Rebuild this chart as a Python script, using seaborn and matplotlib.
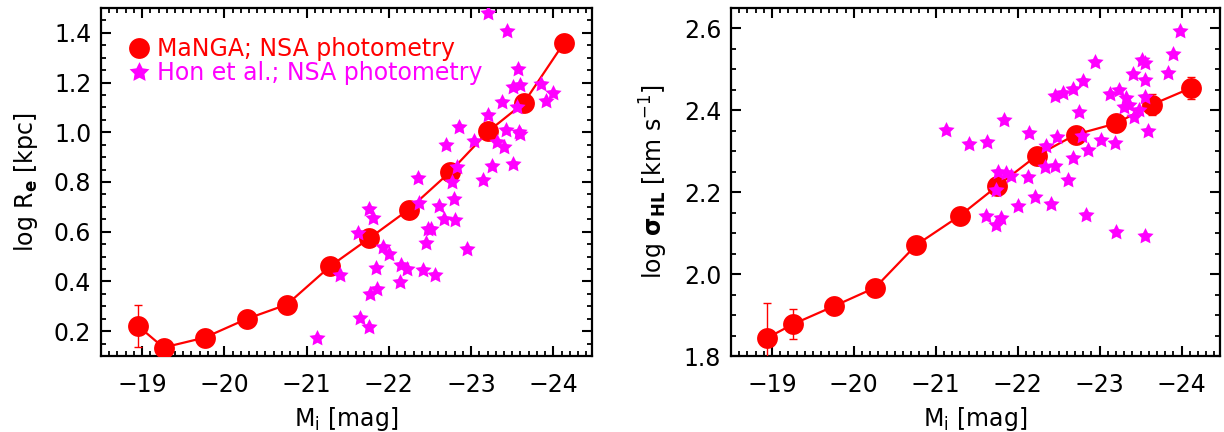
import matplotlib
matplotlib.use("Agg")
import matplotlib.pyplot as plt
from matplotlib.lines import Line2D
from matplotlib.ticker import MultipleLocator
import seaborn as sns
import pandas as pd

# ---------------- data ----------------
# MaNGA binned relation (shared magnitude bins)
manga_mag = [-18.95, -19.26, -19.76, -20.27, -20.76, -21.29, -21.76, -22.24, -22.74, -23.21, -23.64, -24.13]
manga_logre = [0.221, 0.134, 0.174, 0.249, 0.307, 0.462, 0.573, 0.689, 0.839, 1.004, 1.118, 1.360]
manga_logre_err = [0.085, 0.02, 0.015, 0.012, 0.012, 0.012, 0.012, 0.012, 0.012, 0.015, 0.02, 0.03]
manga_mag_s = [-18.94, -19.26, -19.76, -20.26, -20.76, -21.29, -21.75, -22.23, -22.71, -23.20, -23.64, -24.12]
manga_logsig = [1.844, 1.878, 1.922, 1.967, 2.071, 2.142, 2.215, 2.289, 2.341, 2.368, 2.414, 2.455]
manga_logsig_err = [0.085, 0.036, 0.015, 0.012, 0.012, 0.01, 0.01, 0.01, 0.012, 0.015, 0.026, 0.027]

# Hon et al. galaxies (left: size)
hon_mag_re = [-23.21, -23.44, -23.57, -23.51, -23.59, -23.38, -23.56, -23.85, -23.99, -23.91,
              -23.20, -22.85, -23.03, -23.42, -23.31, -23.40, -23.58, -23.60, -22.69, -23.51,
              -23.25, -22.83, -23.15, -22.35, -22.77, -22.79, -22.61, -22.37, -22.67, -22.80,
              -22.47, -22.51, -22.45, -21.76, -21.81, -21.62, -21.93, -22.00, -22.95, -22.15,
              -22.22, -21.84, -22.42, -22.56, -22.14, -21.40, -21.86, -21.77, -21.65, -21.76,
              -21.13]
hon_logre = [1.480, 1.408, 1.253, 1.183, 1.190, 1.122, 1.100, 1.196, 1.159, 1.126,
             1.069, 1.022, 0.965, 1.011, 0.961, 0.941, 1.002, 0.995, 0.948, 0.874,
             0.864, 0.861, 0.807, 0.818, 0.800, 0.733, 0.703, 0.716, 0.653, 0.649,
             0.609, 0.609, 0.555, 0.693, 0.657, 0.595, 0.539, 0.509, 0.532, 0.465,
             0.452, 0.454, 0.445, 0.425, 0.398, 0.425, 0.371, 0.351, 0.251, 0.217,
             0.174]

# Hon et al. galaxies (right: dispersion)
hon_mag_sig = [-23.98, -23.90, -23.84, -23.52, -23.56, -23.41, -23.56, -22.95, -22.80, -22.67,
               -22.55, -22.46, -23.13, -23.24, -23.32, -23.36, -23.30, -23.48, -23.42, -23.56,
               -22.75, -23.59, -23.19, -23.02, -22.79, -22.48, -22.86, -22.67, -22.35, -22.14,
               -21.83, -21.13, -21.40, -21.63, -22.33, -22.45, -22.61, -22.13, -21.76, -21.86,
               -21.92, -21.74, -22.21, -22.00, -22.41, -21.61, -21.80, -21.74, -22.84, -23.20,
               -23.56]
hon_logsig = [2.594, 2.537, 2.492, 2.523, 2.516, 2.488, 2.475, 2.518, 2.472, 2.453,
              2.443, 2.435, 2.440, 2.449, 2.429, 2.413, 2.409, 2.400, 2.383, 2.433,
              2.396, 2.350, 2.321, 2.327, 2.337, 2.335, 2.303, 2.284, 2.313, 2.345,
              2.376, 2.353, 2.317, 2.323, 2.262, 2.264, 2.231, 2.238, 2.250, 2.246,
              2.239, 2.205, 2.189, 2.166, 2.171, 2.142, 2.136, 2.120, 2.144, 2.103,
              2.093]

xticks = [-19, -20, -21, -22, -23, -24]
legend_labels = ["MaNGA; NSA photometry", "Hon et al.; NSA photometry"]

# ---------------- style ----------------
sns.set_style("ticks")
plt.rcParams["font.family"] = ["DejaVu Sans"]
plt.rcParams["mathtext.fontset"] = "dejavusans"
plt.rcParams["axes.unicode_minus"] = True
plt.rcParams["axes.labelcolor"] = "black"
plt.rcParams["text.color"] = "black"

RED = "#ff0000"
MAG = "#ff00ff"
FS = 17
STAR = (5, 1, 0)

fig = plt.figure(figsize=(12.24, 4.32), dpi=100)
axL = fig.add_axes([101 / 1224, 76 / 432, 491 / 1224, 348 / 432])
axR = fig.add_axes([731 / 1224, 76 / 432, 489 / 1224, 348 / 432])

dfL = pd.DataFrame({"mag": manga_mag, "val": manga_logre, "err": manga_logre_err})
dfR = pd.DataFrame({"mag": manga_mag_s, "val": manga_logsig, "err": manga_logsig_err})
hL = pd.DataFrame({"mag": hon_mag_re, "val": hon_logre})
hR = pd.DataFrame({"mag": hon_mag_sig, "val": hon_logsig})

for ax, df, hd in [(axL, dfL, hL), (axR, dfR, hR)]:
    sns.lineplot(data=df, x="mag", y="val", ax=ax, color=RED, linewidth=1.6,
                 marker="o", markersize=15, markeredgewidth=0, zorder=3, legend=False)
    ax.errorbar(df["mag"], df["val"], yerr=df["err"], fmt="none", ecolor=RED,
                elinewidth=1.0, capsize=3, capthick=1.0, zorder=4)
    sns.scatterplot(data=hd, x="mag", y="val", ax=ax, color=MAG, marker=STAR,
                    s=150, linewidth=0, zorder=5, legend=False)

    ax.set_xlim(-18.5, -24.47)
    ax.set_xticks(xticks)
    ax.xaxis.set_minor_locator(MultipleLocator(0.1))
    ax.yaxis.set_minor_locator(MultipleLocator(0.05))
    ax.tick_params(which="both", direction="in", top=True, right=True,
                   labelsize=FS, colors="black")
    ax.tick_params(which="major", length=7, width=1.5)
    ax.tick_params(which="minor", length=3.5, width=1.3)
    ax.tick_params(axis="x", which="major", pad=12)
    ax.tick_params(axis="y", which="major", pad=7)
    for sp in ax.spines.values():
        sp.set_linewidth(1.6)
        sp.set_color("black")
    ax.set_xlabel(r"M$_\mathregular{i}$ [mag]", fontsize=FS, labelpad=6, color="black")
    ax.grid(False)

axL.set_ylim(0.1, 1.5)
axL.set_yticks([0.2, 0.4, 0.6, 0.8, 1.0, 1.2, 1.4])
axL.set_ylabel(r"log R$_\mathbf{e}$ [kpc]", fontsize=FS, labelpad=10, color="black")

axR.set_ylim(1.8, 2.65)
axR.set_yticks([1.8, 2.0, 2.2, 2.4, 2.6])
axR.set_ylabel(r"log $\mathbf{\sigma}_\mathbf{HL}$ [km s$^\mathregular{-1}$]", fontsize=FS,
               labelpad=10, color="black")

handles = [
    Line2D([], [], marker="o", color=RED, linestyle="none", markersize=15, markeredgewidth=0),
    Line2D([], [], marker=STAR, color=MAG, linestyle="none", markersize=15, markeredgewidth=0),
]
axL.legend(handles, legend_labels, loc="upper left", bbox_to_anchor=(0.02, 0.97),
           frameon=False, fontsize=FS, labelcolor=[RED, MAG], handlelength=0.8,
           handletextpad=0.35, labelspacing=0.0, borderaxespad=0.4)

fig.savefig("out.png", dpi=100)
